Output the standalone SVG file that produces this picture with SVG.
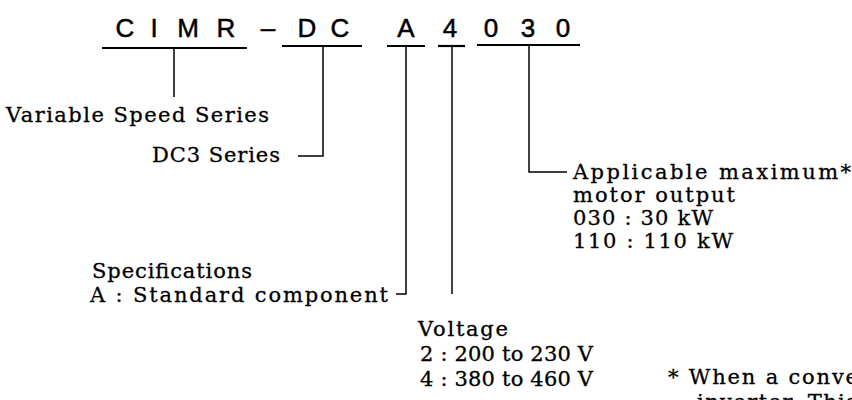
<svg xmlns="http://www.w3.org/2000/svg" width="852" height="400" viewBox="0 0 852 400">
<style>
.code{font-family:"Liberation Sans",Arial,sans-serif;font-size:26px;fill:#000;stroke:#000;stroke-width:0.5;text-anchor:middle}
.lbl{font-family:"DejaVu Serif","Liberation Serif",serif;font-size:21px;fill:#000;stroke:#000;stroke-width:0.3}
.ul{stroke:#000;stroke-width:2.2;fill:none}
.cn{stroke:#000;stroke-width:1.5;fill:none}
</style>
<rect width="852" height="400" fill="#fff"/>
<g id="code">
<text class="code" x="125" y="37">C</text>
<text class="code" x="154" y="37">I</text>
<text class="code" x="188" y="37">M</text>
<text class="code" x="226" y="37">R</text>
<text class="code" x="268" y="37">–</text>
<text class="code" x="307" y="37">D</text>
<text class="code" x="340" y="37">C</text>
<text class="code" x="406" y="37">A</text>
<text class="code" x="450" y="37">4</text>
<text class="code" x="491" y="37">0</text>
<text class="code" x="528" y="37">3</text>
<text class="code" x="563" y="37">0</text>
</g>
<g id="underlines">
<line class="ul" x1="102" y1="48" x2="247" y2="48"/>
<line class="ul" x1="282" y1="46" x2="362" y2="46"/>
<line class="ul" x1="387" y1="46" x2="425" y2="46"/>
<line class="ul" x1="438" y1="46" x2="465" y2="46"/>
<line class="ul" x1="477" y1="45" x2="580" y2="45"/>
</g>
<g id="connectors">
<polyline class="cn" points="174,48 174,97"/>
<polyline class="cn" points="323,46 323,156 298,156"/>
<polyline class="cn" points="406,46 406,294 396,294"/>
<polyline class="cn" points="452,46 452,294"/>
<polyline class="cn" points="529,45 529,172 567,172"/>
</g>
<g id="series">
<text class="lbl" x="6" y="122" textLength="263" lengthAdjust="spacing">Variable Speed Series</text>
</g>
<g id="dc3">
<text class="lbl" x="152" y="162" textLength="128" lengthAdjust="spacing">DC3 Series</text>
</g>
<g id="spec">
<text class="lbl" x="92" y="278" textLength="160" lengthAdjust="spacing">Specifications</text>
<text class="lbl" x="90" y="302" textLength="298" lengthAdjust="spacing">A : Standard component</text>
</g>
<g id="voltage">
<text class="lbl" x="418" y="336" textLength="90" lengthAdjust="spacing">Voltage</text>
<text class="lbl" x="420" y="361" textLength="173" lengthAdjust="spacing">2 : 200 to 230 V</text>
<text class="lbl" x="420" y="386" textLength="173" lengthAdjust="spacing">4 : 380 to 460 V</text>
</g>
<g id="output">
<text class="lbl" x="573" y="179" textLength="278" lengthAdjust="spacing">Applicable maximum*</text>
<text class="lbl" x="573" y="202" textLength="162" lengthAdjust="spacing">motor output</text>
<text class="lbl" x="573" y="225" textLength="140" lengthAdjust="spacing">030 : 30 kW</text>
<text class="lbl" x="573" y="248" textLength="160" lengthAdjust="spacing">110 : 110 kW</text>
</g>
<g id="note">
<text class="lbl" x="668" y="384" textLength="190" lengthAdjust="spacing">* When a conve</text>
<text class="lbl" x="697" y="409" textLength="160" lengthAdjust="spacing">inverter. This</text>
</g>
</svg>
